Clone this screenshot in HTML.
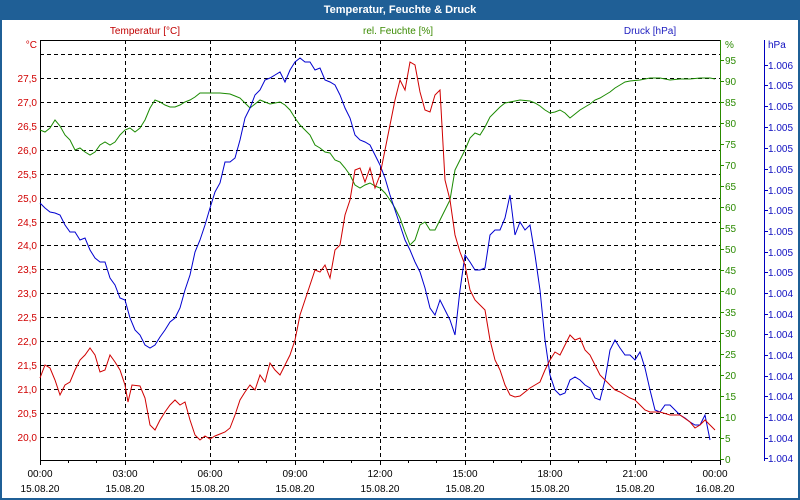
<!DOCTYPE html>
<html><head><meta charset="utf-8"><style>
html,body{margin:0;padding:0;background:#fff}
svg{display:block;font-family:"Liberation Sans",sans-serif}
</style></head><body>
<svg width="800" height="500" viewBox="0 0 800 500" xmlns="http://www.w3.org/2000/svg">
<rect x="0" y="0" width="800" height="500" fill="#1f5f96"/>
<rect x="2" y="20" width="796" height="478" fill="#fff"/>
<text x="400" y="13" fill="#fff" font-size="11" font-weight="bold" text-anchor="middle">Temperatur, Feuchte &amp; Druck</text>
<g font-size="10">
<text x="145" y="34" fill="#c00000" text-anchor="middle">Temperatur [°C]</text>
<text x="398" y="34" fill="#3a8a00" text-anchor="middle">rel. Feuchte [%]</text>
<text x="650" y="34" fill="#2020c0" text-anchor="middle">Druck [hPa]</text>
</g>
<!-- grid -->
<g stroke="#000" stroke-dasharray="4,3" stroke-width="1">
<line x1="40" x2="720" y1="54.5" y2="54.5"/><line x1="40" x2="720" y1="78.5" y2="78.5"/><line x1="40" x2="720" y1="102.5" y2="102.5"/><line x1="40" x2="720" y1="126.5" y2="126.5"/><line x1="40" x2="720" y1="150.5" y2="150.5"/><line x1="40" x2="720" y1="174.5" y2="174.5"/><line x1="40" x2="720" y1="198.5" y2="198.5"/><line x1="40" x2="720" y1="222.5" y2="222.5"/><line x1="40" x2="720" y1="245.5" y2="245.5"/><line x1="40" x2="720" y1="269.5" y2="269.5"/><line x1="40" x2="720" y1="293.5" y2="293.5"/><line x1="40" x2="720" y1="317.5" y2="317.5"/><line x1="40" x2="720" y1="341.5" y2="341.5"/><line x1="40" x2="720" y1="365.5" y2="365.5"/><line x1="40" x2="720" y1="389.5" y2="389.5"/><line x1="40" x2="720" y1="413.5" y2="413.5"/><line x1="40" x2="720" y1="437.5" y2="437.5"/>
<line y1="40" y2="460" x1="125.5" x2="125.5"/><line y1="40" y2="460" x1="210.5" x2="210.5"/><line y1="40" y2="460" x1="295.5" x2="295.5"/><line y1="40" y2="460" x1="380.5" x2="380.5"/><line y1="40" y2="460" x1="465.5" x2="465.5"/><line y1="40" y2="460" x1="550.5" x2="550.5"/><line y1="40" y2="460" x1="635.5" x2="635.5"/>
</g>
<line x1="40" x2="720" y1="40.5" y2="40.5" stroke="#000"/>
<line x1="40.5" x2="40.5" y1="40" y2="461" stroke="#000"/>
<line x1="40" x2="720" y1="460.5" y2="460.5" stroke="#000"/>
<line x1="720.5" x2="720.5" y1="40" y2="461" stroke="#2a8a00"/>
<line x1="764.5" x2="764.5" y1="40" y2="461" stroke="#0000c0"/>
<!-- x ticks -->
<g stroke="#000">
<path d="M40.5 460v5M68.5 460v3M96.5 460v3M125.5 460v5M153.5 460v3M181.5 460v3M210.5 460v5M238.5 460v3M266.5 460v3M295.5 460v5M323.5 460v3M351.5 460v3M380.5 460v5M408.5 460v3M436.5 460v3M465.5 460v5M493.5 460v3M521.5 460v3M550.5 460v5M578.5 460v3M606.5 460v3M635.5 460v5M663.5 460v3M691.5 460v3M720.5 460v5"/>
</g>
<g font-size="10" fill="#000" text-anchor="middle">
<text x="40" y="477">00:00</text><text x="40" y="492">15.08.20</text>
<text x="125" y="477">03:00</text><text x="125" y="492">15.08.20</text>
<text x="210" y="477">06:00</text><text x="210" y="492">15.08.20</text>
<text x="295" y="477">09:00</text><text x="295" y="492">15.08.20</text>
<text x="380" y="477">12:00</text><text x="380" y="492">15.08.20</text>
<text x="465" y="477">15:00</text><text x="465" y="492">15.08.20</text>
<text x="550" y="477">18:00</text><text x="550" y="492">15.08.20</text>
<text x="635" y="477">21:00</text><text x="635" y="492">15.08.20</text>
<text x="715" y="477">00:00</text><text x="715" y="492">16.08.20</text>
</g>
<!-- temp labels -->
<g font-size="10" fill="#d00000" text-anchor="end">
<text x="37" y="48">°C</text>
<text x="37" y="82">27,5</text><text x="37" y="106">27,0</text><text x="37" y="130">26,5</text><text x="37" y="154">26,0</text><text x="37" y="178">25,5</text><text x="37" y="202">25,0</text><text x="37" y="226">24,5</text><text x="37" y="249">24,0</text><text x="37" y="273">23,5</text><text x="37" y="297">23,0</text><text x="37" y="321">22,5</text><text x="37" y="345">22,0</text><text x="37" y="369">21,5</text><text x="37" y="393">21,0</text><text x="37" y="417">20,5</text><text x="37" y="441">20,0</text>
</g>
<!-- humidity -->
<g stroke="#2a8a00"><path d="M720 60.5h4M720 81.5h4M720 102.5h4M720 123.5h4M720 144.5h4M720 165.5h4M720 186.5h4M720 207.5h4M720 228.5h4M720 249.5h4M720 270.5h4M720 291.5h4M720 312.5h4M720 333.5h4M720 354.5h4M720 375.5h4M720 396.5h4M720 417.5h4M720 438.5h4M720 459.5h4"/></g>
<g font-size="10" fill="#2a8a00">
<text x="725" y="48">%</text>
<text x="725" y="64">95</text><text x="725" y="85">90</text><text x="725" y="106">85</text><text x="725" y="127">80</text><text x="725" y="148">75</text><text x="725" y="169">70</text><text x="725" y="190">65</text><text x="725" y="211">60</text><text x="725" y="232">55</text><text x="725" y="253">50</text><text x="725" y="274">45</text><text x="725" y="295">40</text><text x="725" y="316">35</text><text x="725" y="337">30</text><text x="725" y="358">25</text><text x="725" y="379">20</text><text x="725" y="400">15</text><text x="725" y="421">10</text><text x="725" y="442">5</text><text x="725" y="463">0</text>
</g>
<!-- pressure -->
<g stroke="#0000c0"><path d="M764 65.5h4M764 85.5h4M764 106.5h4M764 127.5h4M764 148.5h4M764 169.5h4M764 190.5h4M764 210.5h4M764 231.5h4M764 252.5h4M764 272.5h4M764 293.5h4M764 314.5h4M764 334.5h4M764 355.5h4M764 376.5h4M764 396.5h4M764 417.5h4M764 438.5h4M764 458.5h4"/></g>
<g font-size="10" fill="#1010c0">
<text x="768" y="48">hPa</text>
<text x="768" y="69">1.006</text><text x="768" y="89">1.005</text><text x="768" y="110">1.005</text><text x="768" y="131">1.005</text><text x="768" y="152">1.005</text><text x="768" y="173">1.005</text><text x="768" y="194">1.005</text><text x="768" y="214">1.005</text><text x="768" y="235">1.005</text><text x="768" y="256">1.005</text><text x="768" y="276">1.005</text><text x="768" y="297">1.004</text><text x="768" y="318">1.004</text><text x="768" y="338">1.004</text><text x="768" y="359">1.004</text><text x="768" y="380">1.004</text><text x="768" y="400">1.004</text><text x="768" y="421">1.004</text><text x="768" y="442">1.004</text><text x="768" y="462">1.004</text>
</g>
<!-- series -->
<polyline fill="none" stroke="#1a8a00" stroke-width="1" points="40,130 45,132 50,128 55,120 60,126 65,135 70,140 75,150 80,148 85,152 90,155 95,152 100,145 105,142 110,145 115,142 120,135 125,130 130,128 135,132 140,128 145,120 150,108 155,100 160,102 165,105 170,107 175,107 180,105 185,102 190,100 195,97 200,93 205,93 210,93 220,93 230,94 235,96 240,98 245,103 250,108 255,104 260,100 265,102 270,104 275,103 280,102 285,105 290,110 295,118 300,125 305,130 310,135 315,145 320,148 325,152 330,153 335,160 340,162 345,168 350,175 355,185 360,188 365,185 370,183 375,186 380,188 385,193 390,200 395,208 400,218 405,232 410,245 415,240 420,225 425,222 430,230 435,230 440,220 445,210 450,200 455,170 460,160 465,150 470,138 475,133 480,135 485,127 490,117 495,112 500,107 505,103 510,102 520,100 530,101 535,103 540,106 545,110 550,113 555,112 560,110 565,113 570,118 575,114 580,110 585,107 590,104 595,100 600,98 605,95 610,92 615,88 620,85 625,82 630,81 640,80 650,78 660,78 670,80 680,79 690,79 700,78 710,78 715,79"/>
<polyline fill="none" stroke="#0000d0" stroke-width="1" points="40,203 45,208 50,212 55,213 60,215 65,225 70,232 75,232 80,240 85,238 90,250 95,258 100,262 105,262 110,278 115,285 120,298 125,300 130,318 135,330 140,335 145,345 150,348 155,345 160,337 165,330 170,322 175,318 180,308 185,290 190,275 195,252 200,240 205,225 210,208 215,192 220,183 225,162 230,162 235,158 240,140 245,118 250,108 255,95 260,90 265,80 270,78 275,75 280,72 285,82 290,70 295,62 300,58 305,62 310,62 315,70 320,68 325,80 330,82 335,85 340,95 345,108 350,118 355,135 360,140 365,142 370,145 375,155 380,165 385,178 390,195 395,210 400,225 405,240 410,250 415,262 420,272 425,288 430,308 435,315 440,300 445,310 450,320 455,335 460,290 465,255 470,262 475,270 480,270 485,268 490,235 495,230 500,230 505,218 510,195 515,235 520,222 525,230 530,225 535,255 540,290 545,340 550,375 555,390 560,395 565,393 570,380 575,377 580,380 585,385 590,388 595,398 600,400 605,380 610,350 615,340 620,348 625,355 630,355 635,360 640,352 645,368 650,390 655,410 660,412 665,405 670,405 675,410 680,415 685,418 690,422 695,425 700,425 705,415 710,440"/>
<polyline fill="none" stroke="#d00000" stroke-width="1" points="40,378 45,365 50,368 55,380 60,395 65,385 70,382 75,370 80,360 85,355 90,348 95,355 100,372 105,370 110,355 115,362 120,370 125,385 128,402 132,385 140,386 145,398 150,425 155,430 160,420 165,412 170,405 175,400 180,405 185,402 190,420 195,435 200,440 205,436 210,439 215,436 220,434 225,432 230,428 235,415 240,400 245,392 250,385 255,390 260,375 265,382 270,363 275,370 280,375 285,365 290,355 295,340 300,315 305,300 310,285 315,270 320,272 325,265 330,278 335,250 340,245 345,215 350,200 355,170 360,168 365,182 370,168 375,188 380,175 385,150 390,125 395,100 400,80 405,90 410,62 415,65 420,92 425,110 430,112 435,95 440,90 445,180 450,200 455,235 460,252 465,265 470,290 475,300 480,305 485,310 490,340 495,360 500,370 505,385 510,395 515,397 520,396 525,392 530,388 535,385 540,382 545,370 550,360 555,352 560,355 565,345 570,335 575,340 580,338 585,350 590,355 595,365 600,375 605,380 610,385 615,390 620,392 625,395 630,398 635,400 640,405 645,410 650,412 660,412 670,415 680,415 690,422 695,428 700,425 705,420 710,425 715,430"/>
</svg>
</body></html>
